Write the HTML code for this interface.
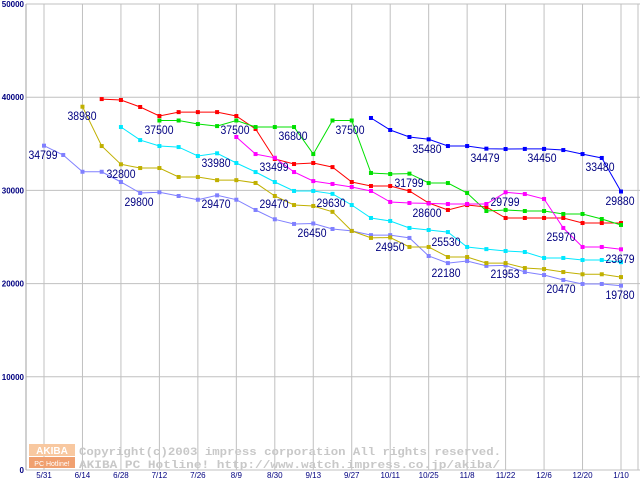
<!DOCTYPE html>
<html><head><meta charset="utf-8"><style>
body{margin:0;background:#fff;}
svg{display:block;font-family:"Liberation Sans",sans-serif;}
</style></head><body>
<svg id="chart" width="640" height="480" viewBox="0 0 640 480" xmlns="http://www.w3.org/2000/svg">
<rect width="640" height="480" fill="#fff"/>
<g id="grid"></g>
<g id="wm">
<rect x="29" y="444" width="46" height="12" fill="#f8c8a0"/>
<text x="52" y="454" font-size="10" fill="#fff" text-anchor="middle" font-weight="bold">AKIBA</text>
<rect x="29" y="457" width="46" height="11" fill="#f0a070"/>
<text x="52" y="466" font-size="7" fill="#fff" text-anchor="middle">PC Hotline!</text>
<text x="79" y="455" font-size="11" font-weight="bold" fill="#c8c8c8" font-family="Liberation Mono,monospace" textLength="422" lengthAdjust="spacingAndGlyphs">Copyright(c)2003 impress corporation All rights reserved.</text>
<text x="79" y="468" font-size="11" font-weight="bold" fill="#c8c8c8" font-family="Liberation Mono,monospace" textLength="421" lengthAdjust="spacingAndGlyphs">AKIBA PC Hotline!  http://www.watch.impress.co.jp/akiba/</text>
</g>
<g id="series"></g>
<g id="labels"></g>
</svg>
<script>
const xTickLabels=["5/31","6/14","6/28","7/12","7/26","8/9","8/30","9/13","9/27","10/11","10/25","11/8","11/22","12/6","12/20","1/10"];
const yTicks=[0,10000,20000,30000,40000,50000];
const purple=[34799,33800,32000,32000,30900,29720,29800,29400,29000,29470,29000,27900,26900,26400,26450,25860,25650,25200,25200,24900,22960,22200,22420,21900,21953,21240,20920,20390,19960,19960,19780];
const olive=[null,null,38980,34760,32800,32400,32400,31440,31440,31100,31100,30800,29400,28430,28330,27700,25650,24900,24950,23930,23930,22850,22850,22200,22200,21670,21560,21240,21000,21000,20700];
const cyan=[null,null,null,null,36800,35400,34760,34650,33690,33980,32940,31970,30900,29940,29940,29630,28430,27040,26720,25970,25750,25530,23930,23700,23500,23390,22750,22750,22530,22530,22300];
const red=[null,null,null,39800,39700,38950,37980,38400,38400,38400,37980,36590,33370,32830,32940,32500,30900,30470,30470,29940,28650,27900,28430,28220,27040,27040,27040,27040,26500,26500,26500];
const green=[null,null,null,null,null,null,37500,37500,37120,36900,37500,36800,36800,36800,33900,37500,37500,31870,31760,31799,30790,30790,29720,27790,27900,27790,27790,27470,27470,26930,26290];
const magenta=[null,null,null,null,null,null,null,null,null,null,35730,33900,33499,31970,31000,30690,30370,29940,28760,28650,28600,28540,28540,28540,29799,29610,29080,25970,23930,23930,23679];
const blue=[null,null,null,null,null,null,null,null,null,null,null,null,null,null,null,null,null,37770,36480,35730,35480,34760,34760,34479,34440,34450,34450,34330,33900,33480,29880];
const seriesList=[["purple",purple,"#8080ff"],["olive",olive,"#c0b000"],["cyan",cyan,"#00e8ff"],["red",red,"#ff0000"],["green",green,"#00e000"],["magenta",magenta,"#ff00ff"],["blue",blue,"#0000ff"]];
const labelVals=["34799","38980","32800","29800","37500","33980","29470","37500","33499","29470","36800","29630","26450","37500","31799","35480","28600","24950","25530","34479","29799","22180","21953","34450","25970","20470","33480","29880","23679","19780"];
const labelPos=[[43,155],[82,116],[121,174],[139,202],[159,130],[216,163],[216,204],[235,130],[274,167],[274,204],[293,136],[331,203],[312,233],[350,130],[409,183],[427,149],[427,213],[390,247],[446,242],[485,158],[505,202],[446,273],[505,274],[542,158],[561,237],[561,289],[600,167],[620,201],[620,259],[620,295]];
const NS="http://www.w3.org/2000/svg";
const X0=44,X1=621,Y0=470,Y1=4;
function xs(t){return X0+t*(X1-X0)/30;}
function ys(v){return Y0-(v/50000)*(Y0-Y1);}
function mk(tag,attrs,parent){const e=document.createElementNS(NS,tag);for(const k in attrs)e.setAttribute(k,attrs[k]);parent.appendChild(e);return e;}
const grid=document.getElementById('grid');
yTicks.forEach(v=>{
 const l=mk('line',{x1:26,x2:640,y1:ys(v),y2:ys(v),stroke:'#c0c0c0','stroke-width':1},grid);
 
 
 const t=mk('text',{x:24,y:ys(v)+3,'font-size':8,'font-weight':'bold',fill:'#000080','text-anchor':'end'},grid);
 t.textContent=v;
 
 
});
xTickLabels.forEach((s,i)=>{
 const x=xs(i*2);
 const l=mk('line',{x1:x,x2:x,y1:4,y2:470,stroke:'#c0c0c0','stroke-width':1},grid);
 
 
 const t=mk('text',{x:x,y:478,'font-size':8,fill:'#000080','text-anchor':'middle'},grid);
 t.textContent=s;
 
 
});
const ax=mk('line',{x1:26,x2:26,y1:4,y2:470,stroke:'#a0a0a0'},grid);


const ax2=mk('line',{x1:638,x2:638,y1:4,y2:470,stroke:'#c0c0c0'},grid);


const sg=document.getElementById('series');
seriesList.forEach(([name,vals,col])=>{
 const g=mk('g',{},sg);
 
 
 const pts=[];
 vals.forEach((v,i)=>{if(v!=null)pts.push(xs(i).toFixed(1)+','+ys(v).toFixed(1));});
 const pl=mk('polyline',{points:pts.join(' '),fill:'none',stroke:col,'stroke-width':1},g);
 
 
 vals.forEach((v,i)=>{if(v==null)return;
  const r=mk('rect',{x:xs(i)-2,y:ys(v)-2,width:4,height:4,fill:col},g);
  
  
 });
});
const lg=document.getElementById('labels');
labelVals.forEach((s,i)=>{
 const t=mk('text',{x:labelPos[i][0],y:labelPos[i][1]+4,'font-size':11.5,fill:'#000080','text-anchor':'middle',textLength:29,lengthAdjust:'spacingAndGlyphs'},lg);
 t.textContent=s;
 
 
});
</script>
</body></html>
